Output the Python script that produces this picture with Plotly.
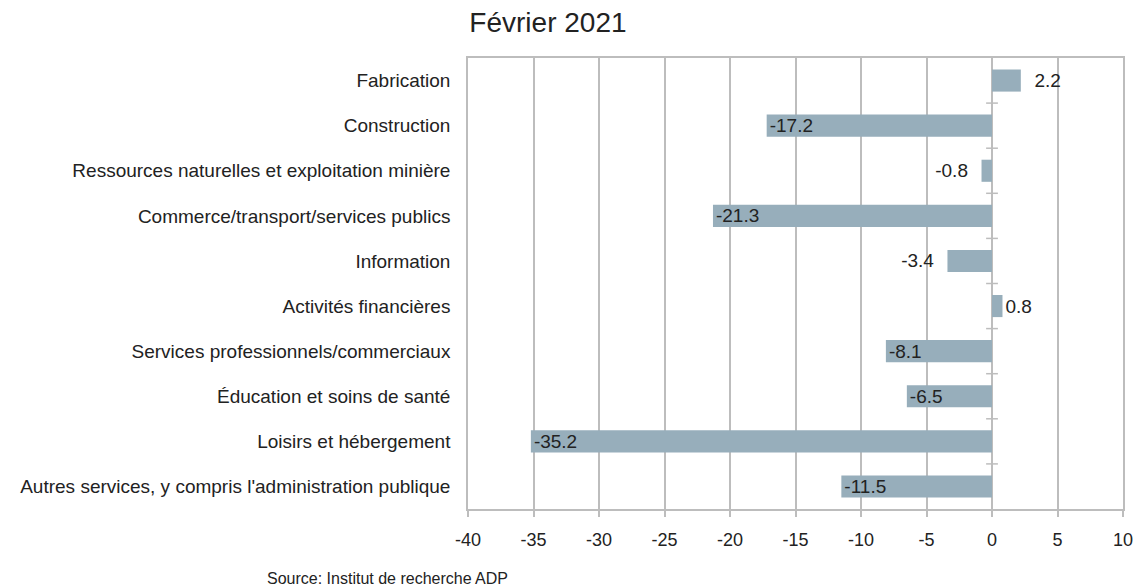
import plotly.graph_objects as go

categories = [
    "Fabrication",
    "Construction",
    "Ressources naturelles et exploitation minière",
    "Commerce/transport/services publics",
    "Information",
    "Activités financières",
    "Services professionnels/commerciaux",
    "Éducation et soins de santé",
    "Loisirs et hébergement",
    "Autres services, y compris l'administration publique",
]
values = [2.2, -17.2, -0.8, -21.3, -3.4, 0.8, -8.1, -6.5, -35.2, -11.5]
x_ticks = [-40, -35, -30, -25, -20, -15, -10, -5, 0, 5, 10]

FONT = "Liberation Sans, Arial, sans-serif"
GRID = "#BDBDBD"
BAR = "#97AEBB"
TXT = "#222222"
NB = "\u00a0\u00a0"

positions = ["inside" if abs(v) > 5 else "outside" for v in values]
labels = []
for v, p in zip(values, positions):
    s = f"{v:.1f}"
    if p == "outside":
        s = (NB + s) if v > 1 else (s + NB) if v < 0 else s
    labels.append(s)

fig = go.Figure(
    go.Bar(
        y=categories,
        x=values,
        orientation="h",
        marker=dict(color=BAR, line=dict(width=0)),
        text=labels,
        textposition=positions,
        insidetextanchor="end",
        textfont=dict(family=FONT, size=19, color=TXT),
        insidetextfont=dict(family=FONT, size=19, color=TXT),
        outsidetextfont=dict(family=FONT, size=19, color=TXT),
        cliponaxis=False,
        constraintext="none",
        width=0.49,
        hoverinfo="skip",
    )
)

# small tick marks on the vertical axis (at x=0) between categories
n = len(categories)
for i in range(n - 1):
    fig.add_shape(
        type="line", xref="x", yref="y",
        x0=-0.45, x1=0.45, y0=i + 0.5, y1=i + 0.5,
        line=dict(color=GRID, width=1.5), layer="above",
    )

fig.update_layout(
    width=1138,
    height=586,
    paper_bgcolor="white",
    plot_bgcolor="white",
    margin=dict(l=468, r=15, t=58, b=77, autoexpand=False),
    showlegend=False,
    font=dict(family=FONT, size=19, color=TXT),
    title=dict(
        text="Février 2021",
        font=dict(family=FONT, size=28, color=TXT),
        xref="container", x=0.4815, xanchor="center",
        yref="container", y=0.9625, yanchor="middle",
    ),
    xaxis=dict(
        range=[-40, 10],
        tickvals=x_ticks,
        ticktext=[str(t) for t in x_ticks],
        showgrid=True,
        gridcolor=GRID,
        gridwidth=1.5,
        zeroline=True,
        zerolinecolor=GRID,
        zerolinewidth=1.5,
        showline=True,
        linecolor=GRID,
        linewidth=1.5,
        mirror=True,
        ticks="outside",
        ticklen=6,
        tickcolor=GRID,
        tickwidth=1.5,
        tickfont=dict(family=FONT, size=18, color=TXT),
        ticklabelstandoff=8,
    ),
    yaxis=dict(
        categoryorder="array",
        categoryarray=categories,
        autorange="reversed",
        showgrid=False,
        showline=True,
        linecolor=GRID,
        linewidth=1.5,
        mirror=True,
        ticks="",
        tickfont=dict(family=FONT, size=19, color=TXT),
        ticklabelstandoff=12,
    ),
    annotations=[
        dict(
            text="Source: Institut de recherche ADP",
            xref="paper", yref="paper",
            x=-0.3099, y=-0.153,
            xanchor="left", yanchor="middle",
            showarrow=False,
            font=dict(family=FONT, size=16, color=TXT),
        )
    ],
)

fig.write_html(
    "out.html",
    config={"displayModeBar": False},
    post_script="document.body.style.margin='0px';",
)
